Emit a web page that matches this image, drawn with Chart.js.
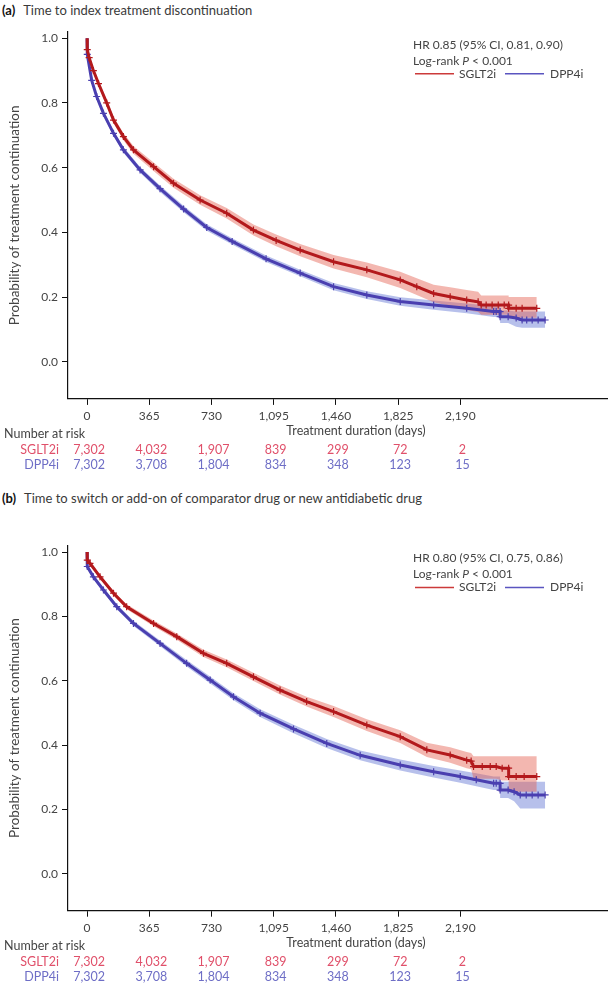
<!DOCTYPE html>
<html>
<head>
<meta charset="utf-8">
<script src="https://cdn.jsdelivr.net/npm/chart.js@4.4.0/dist/chart.umd.min.js"></script>
<style>
body { margin:0; width:610px; height:987px; background:#fff; position:relative; overflow:hidden; font-family: Lato, sans-serif; }
.ttl { position:absolute; left:2px; font-size:13px; color:#3a3a3a; white-space:nowrap; }
.ttl b { color:#111; margin-right:5px; }
.box { position:absolute; left:0; width:610px; }
</style>
</head>
<body>
<div class="ttl" style="top:2px"><b>(a)</b> Time to index treatment discontinuation</div>
<div class="box" style="top:0;height:487px"><canvas id="chartA" width="610" height="487"></canvas></div>
<div class="ttl" style="top:490px"><b>(b)</b> Time to switch or add-on of comparator drug or new antidiabetic drug</div>
<div class="box" style="top:514px;height:473px"><canvas id="chartB" width="610" height="473"></canvas></div>
<script>
// axis ticks
var xTicks = [0, 365, 730, 1095, 1460, 1825, 2190];
var yTicks = [0, 0.2, 0.4, 0.6, 0.8, 1.0];

// (a) SGLT2i
var daysA_S = [0, 1, 12, 37, 67, 115, 155, 213, 272, 390, 507, 663, 819, 976, 1109, 1250, 1446, 1641, 1837, 1934, 2033, 2130, 2227, 2294, 2312, 2341, 2376, 2412, 2447, 2473, 2473, 2517, 2552, 2638];
var survA_S = [1.0, 0.965, 0.94, 0.90, 0.86, 0.80, 0.747, 0.696, 0.655, 0.603, 0.552, 0.50, 0.459, 0.407, 0.375, 0.345, 0.309, 0.284, 0.253, 0.232, 0.211, 0.201, 0.191, 0.185, 0.175, 0.175, 0.175, 0.175, 0.175, 0.175, 0.165, 0.165, 0.165, 0.165];
var hiA_S = [1.0, 0.97, 0.946, 0.907, 0.868, 0.809, 0.757, 0.707, 0.667, 0.616, 0.566, 0.515, 0.475, 0.424, 0.393, 0.364, 0.33, 0.307, 0.278, 0.258, 0.238, 0.23, 0.222, 0.216, 0.205, 0.205, 0.205, 0.205, 0.205, 0.205, 0.2, 0.2, 0.2, 0.2];
var loA_S = [1.0, 0.96, 0.934, 0.893, 0.852, 0.791, 0.737, 0.685, 0.643, 0.59, 0.538, 0.485, 0.443, 0.39, 0.357, 0.326, 0.288, 0.261, 0.228, 0.206, 0.184, 0.172, 0.16, 0.154, 0.145, 0.145, 0.145, 0.145, 0.145, 0.145, 0.136, 0.136, 0.136, 0.136];

// (a) DPP4i
var daysA_D = [0, 1, 27, 56, 96, 155, 213, 311, 428, 566, 702, 851, 1050, 1250, 1446, 1641, 1837, 2033, 2227, 2385, 2400, 2423, 2423, 2470, 2517, 2552, 2579, 2611, 2646, 2687];
var survA_D = [1.0, 0.95, 0.87, 0.82, 0.768, 0.706, 0.655, 0.593, 0.535, 0.472, 0.415, 0.372, 0.318, 0.274, 0.232, 0.206, 0.186, 0.175, 0.165, 0.155, 0.155, 0.155, 0.139, 0.139, 0.135, 0.129, 0.129, 0.129, 0.129, 0.129];
var hiA_D = [1.0, 0.955, 0.877, 0.827, 0.776, 0.714, 0.664, 0.602, 0.545, 0.482, 0.425, 0.382, 0.328, 0.284, 0.243, 0.218, 0.199, 0.189, 0.18, 0.172, 0.172, 0.172, 0.158, 0.158, 0.155, 0.155, 0.155, 0.155, 0.155, 0.155];
var loA_D = [1.0, 0.945, 0.863, 0.813, 0.76, 0.698, 0.646, 0.584, 0.525, 0.462, 0.405, 0.362, 0.308, 0.264, 0.221, 0.194, 0.173, 0.161, 0.15, 0.138, 0.138, 0.138, 0.12, 0.12, 0.108, 0.105, 0.105, 0.105, 0.105, 0.105];

// (b) SGLT2i
var daysB_S = [0, 1, 17, 76, 155, 232, 390, 526, 683, 819, 976, 1132, 1288, 1446, 1641, 1837, 1993, 2130, 2227, 2253, 2267, 2318, 2365, 2400, 2435, 2473, 2473, 2517, 2564, 2638];
var survB_S = [1.0, 0.975, 0.965, 0.923, 0.872, 0.83, 0.778, 0.737, 0.685, 0.654, 0.612, 0.571, 0.535, 0.504, 0.462, 0.426, 0.385, 0.369, 0.353, 0.35, 0.333, 0.333, 0.333, 0.333, 0.328, 0.328, 0.302, 0.302, 0.302, 0.302];
var hiB_S = [1.0, 0.98, 0.97, 0.929, 0.879, 0.838, 0.787, 0.747, 0.696, 0.666, 0.625, 0.585, 0.55, 0.521, 0.48, 0.446, 0.407, 0.393, 0.378, 0.375, 0.365, 0.365, 0.365, 0.365, 0.365, 0.365, 0.365, 0.365, 0.365, 0.365];
var loB_S = [1.0, 0.97, 0.96, 0.917, 0.865, 0.822, 0.769, 0.727, 0.674, 0.642, 0.599, 0.557, 0.52, 0.487, 0.444, 0.406, 0.363, 0.345, 0.328, 0.325, 0.295, 0.295, 0.295, 0.295, 0.29, 0.29, 0.255, 0.255, 0.255, 0.255];

// (b) DPP4i
var daysB_D = [0, 1, 37, 96, 174, 272, 428, 584, 722, 859, 1015, 1211, 1406, 1602, 1837, 2033, 2189, 2283, 2385, 2400, 2423, 2423, 2470, 2505, 2541, 2576, 2611, 2646, 2687];
var survB_D = [1.0, 0.955, 0.923, 0.882, 0.83, 0.778, 0.716, 0.654, 0.602, 0.55, 0.499, 0.45, 0.405, 0.368, 0.338, 0.317, 0.302, 0.292, 0.281, 0.281, 0.281, 0.26, 0.26, 0.255, 0.245, 0.245, 0.245, 0.245, 0.245];
var hiB_D = [1.0, 0.96, 0.93, 0.889, 0.838, 0.786, 0.725, 0.664, 0.613, 0.561, 0.511, 0.463, 0.419, 0.383, 0.355, 0.335, 0.321, 0.312, 0.302, 0.302, 0.302, 0.286, 0.286, 0.286, 0.286, 0.286, 0.286, 0.286, 0.286];
var loB_D = [1.0, 0.95, 0.916, 0.875, 0.822, 0.77, 0.707, 0.644, 0.591, 0.539, 0.487, 0.437, 0.391, 0.353, 0.321, 0.299, 0.283, 0.272, 0.26, 0.26, 0.26, 0.235, 0.235, 0.225, 0.203, 0.203, 0.203, 0.203, 0.203];

// number at risk (same in both panels)
var riskS = [7302, 4032, 1907, 839, 299, 72, 2];
var riskD = [7302, 3708, 1804, 834, 348, 123, 15];

var RED = '#b3191c', BLUE = '#4a3fb0';
var RED_BAND = 'rgba(228,95,80,0.45)', BLUE_BAND = 'rgba(95,115,210,0.45)';
var RED_TXT = '#e0506a', BLUE_TXT = '#6e6ec6';

Chart.defaults.font.family = 'Lato, sans-serif';
Chart.defaults.color = '#444';

const pts = (d, v) => d.map((t, i) => ({x: t, y: v[i]}));

const kmText = {
    id: 'kmText',
    afterDraw(chart, args, o) {
        const ctx = chart.ctx, xs = chart.scales.x;
        const top = chart.chartArea.top, bot = chart.chartArea.bottom;
        ctx.save();
        ctx.textBaseline = 'middle';
        ctx.textAlign = 'left';
        ctx.fillStyle = '#444';
        ctx.font = '12px Lato';
        ctx.fillText(o.hr, 413, top + 13);
        let lx = 413;
        ctx.fillText('Log-rank ', lx, top + 29);
        lx += ctx.measureText('Log-rank ').width;
        ctx.font = 'italic 12px Lato';
        ctx.fillText('P', lx, top + 29);
        lx += ctx.measureText('P').width;
        ctx.font = '12px Lato';
        ctx.fillText(' < 0.001', lx, top + 29);
        // legend
        ctx.lineWidth = 1.5;
        ctx.strokeStyle = '#cc3a3a';
        ctx.beginPath(); ctx.moveTo(415, top + 42); ctx.lineTo(454, top + 42); ctx.stroke();
        ctx.fillText('SGLT2i', 459, top + 42);
        ctx.strokeStyle = '#5a55c0';
        ctx.beginPath(); ctx.moveTo(505, top + 42); ctx.lineTo(544, top + 42); ctx.stroke();
        ctx.fillText('DPP4i', 550, top + 42);
        // x axis title
        ctx.textAlign = 'center';
        ctx.font = '12.5px Lato';
        ctx.fillText('Treatment duration (days)', 356, bot + 32);
        // number at risk
        ctx.textAlign = 'left';
        ctx.fillText('Number at risk', 4, bot + 35);
        ctx.textAlign = 'right';
        ctx.fillStyle = RED_TXT;
        ctx.fillText('SGLT2i', 59, bot + 51);
        ctx.fillStyle = BLUE_TXT;
        ctx.fillText('DPP4i', 59, bot + 66);
        ctx.textAlign = 'center';
        xTicks.forEach((t, i) => {
            const px = xs.getPixelForValue(t) + 2;
            ctx.fillStyle = RED_TXT;
            ctx.fillText(riskS[i].toLocaleString('en-US'), px, bot + 51);
            ctx.fillStyle = BLUE_TXT;
            ctx.fillText(riskD[i].toLocaleString('en-US'), px, bot + 66);
        });
        ctx.restore();
    }
};

const makeKM = (id, hr, padTop, padBottom, s, d) => {
    const ctx = document.getElementById(id).getContext('2d');
    return new Chart(ctx, {
        type: 'line',
        data: {
            datasets: [
                { data: pts(s.days, s.surv), borderColor: RED, borderWidth: 3,
                  pointStyle: 'cross', pointRadius: c => c.dataIndex === 0 ? 0 : 3.5,
                  pointBorderColor: RED, pointBorderWidth: 1.2, fill: false },
                { data: pts(d.days, d.surv), borderColor: BLUE, borderWidth: 3,
                  pointStyle: 'cross', pointRadius: c => c.dataIndex === 0 ? 0 : 3.5,
                  pointBorderColor: BLUE, pointBorderWidth: 1.2, fill: false },
                { data: pts(s.days, s.hi), borderWidth: 0, pointRadius: 0, fill: '+1', backgroundColor: RED_BAND },
                { data: pts(s.days, s.lo), borderWidth: 0, pointRadius: 0, fill: false },
                { data: pts(d.days, d.hi), borderWidth: 0, pointRadius: 0, fill: '+1', backgroundColor: BLUE_BAND },
                { data: pts(d.days, d.lo), borderWidth: 0, pointRadius: 0, fill: false }
            ]
        },
        options: {
            responsive: false,
            animation: false,
            layout: { autoPadding: false, padding: { top: padTop, bottom: padBottom, left: 0, right: 3 } },
            elements: { line: { tension: 0 } },
            plugins: {
                legend: { display: false },
                tooltip: { enabled: false },
                kmText: { hr: hr }
            },
            scales: {
                x: {
                    type: 'linear', min: -112, max: 3050,
                    afterFit: sc => { sc.height = 42; },
                    afterBuildTicks: sc => { sc.ticks = xTicks.map(v => ({value: v})); },
                    ticks: { font: { size: 12 }, color: '#444', padding: 4, maxRotation: 0,
                             callback: v => v.toLocaleString('en-US') },
                    grid: { drawOnChartArea: false, drawTicks: true, tickLength: 6, color: '#111' },
                    border: { display: true, color: '#111', width: 1.2 }
                },
                y: {
                    min: -0.115, max: 1.02,
                    afterFit: sc => { sc.width = 68; },
                    afterBuildTicks: sc => { sc.ticks = yTicks.map(v => ({value: v})); },
                    ticks: { font: { size: 12 }, color: '#444', padding: 4,
                             callback: v => v.toFixed(1) },
                    grid: { drawOnChartArea: false, drawTicks: true, tickLength: 6, color: '#111' },
                    border: { display: true, color: '#111', width: 1.2 },
                    title: { display: true, text: 'Probability of treatment continuation', font: { size: 13.5 },
                             color: '#444', padding: { top: 7, bottom: 0 } }
                }
            }
        },
        plugins: [kmText]
    });
};

var chartA = makeKM('chartA', 'HR 0.85 (95% CI, 0.81, 0.90)', 31.8, 46.1,
    { days: daysA_S, surv: survA_S, hi: hiA_S, lo: loA_S },
    { days: daysA_D, surv: survA_D, hi: hiA_D, lo: loA_D });

var chartB = makeKM('chartB', 'HR 0.80 (95% CI, 0.75, 0.86)', 31.6, 34.3,
    { days: daysB_S, surv: survB_S, hi: hiB_S, lo: loB_S },
    { days: daysB_D, surv: survB_D, hi: hiB_D, lo: loB_D });
</script>
</body>
</html>
